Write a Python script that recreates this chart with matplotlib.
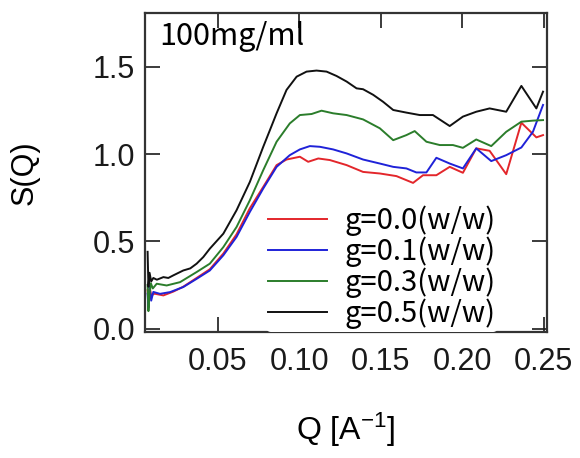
import matplotlib
matplotlib.use("Agg")
import matplotlib.pyplot as plt

# --------------------------
# data
# --------------------------
q_black = [0.0068, 0.0073, 0.0080, 0.0090, 0.0103, 0.0125, 0.0165, 0.0195, 0.0226, 0.0287, 0.0330,
           0.0369, 0.0410, 0.0450, 0.0533, 0.0614, 0.0696, 0.0778, 0.0820, 0.0860, 0.0921, 0.0983,
           0.1044, 0.1105, 0.1167, 0.1228, 0.1290, 0.1351, 0.1391, 0.1453, 0.1514,
           0.1576, 0.1657, 0.1739, 0.1820, 0.1923, 0.2004, 0.2086, 0.2168, 0.2270,
           0.2363, 0.2455, 0.2496]
s_black = [0.44, 0.24, 0.32, 0.27, 0.29, 0.28, 0.295, 0.29, 0.305, 0.333, 0.345,
           0.372, 0.410, 0.458, 0.544, 0.678, 0.841, 1.042, 1.140, 1.234, 1.368, 1.444,
           1.473, 1.479, 1.473, 1.448, 1.416, 1.377, 1.372, 1.340, 1.300,
           1.253, 1.238, 1.224, 1.224, 1.161, 1.215, 1.243, 1.262, 1.243,
           1.391, 1.262, 1.358]

q_green = [0.0068, 0.0073, 0.0080, 0.0088, 0.0100, 0.0124, 0.0185, 0.0267, 0.0369, 0.0450,
           0.0533, 0.0614, 0.0696, 0.0778, 0.0860, 0.0941, 0.1003, 0.1075, 0.1136,
           0.1207, 0.1290, 0.1391, 0.1494, 0.1576, 0.1657, 0.1708, 0.1780, 0.1862,
           0.1943, 0.2004, 0.2086, 0.2178, 0.2270, 0.2363, 0.2434, 0.2496]
s_green = [0.25, 0.10, 0.20, 0.26, 0.23, 0.257, 0.247, 0.266, 0.324, 0.372,
           0.467, 0.582, 0.736, 0.908, 1.071, 1.176, 1.224, 1.230, 1.249,
           1.234, 1.224, 1.199, 1.148, 1.080, 1.109, 1.132, 1.071, 1.052,
           1.052, 1.036, 1.084, 1.046, 1.128, 1.186, 1.192, 1.195]

q_blue = [0.0068, 0.0073, 0.0080, 0.0090, 0.0103, 0.0144, 0.0206, 0.0287, 0.0369, 0.0450,
          0.0533, 0.0614, 0.0696, 0.0778, 0.0860, 0.0941, 0.1003, 0.1064, 0.1126,
          0.1207, 0.1290, 0.1391, 0.1494, 0.1576, 0.1657, 0.1718, 0.1780, 0.1841,
          0.1923, 0.2004, 0.2086, 0.2178, 0.2270, 0.2363, 0.2434, 0.2496]
s_blue = [0.20, 0.12, 0.24, 0.16, 0.21, 0.199, 0.209, 0.238, 0.285, 0.333,
          0.420, 0.525, 0.669, 0.803, 0.927, 0.994, 1.027, 1.046, 1.042,
          1.027, 1.004, 0.969, 0.946, 0.927, 0.918, 0.895, 0.895, 0.979,
          0.946, 0.918, 1.033, 0.960, 0.994, 1.038, 1.128, 1.282]

q_red = [0.0068, 0.0073, 0.0080, 0.0090, 0.0110, 0.0165, 0.0226, 0.0287, 0.0369, 0.0450,
         0.0533, 0.0614, 0.0696, 0.0778, 0.0860, 0.0921, 0.1003, 0.1054, 0.1116,
         0.1187, 0.1290, 0.1391, 0.1494, 0.1596, 0.1698, 0.1759, 0.1841, 0.1923,
         0.2004, 0.2086, 0.2168, 0.2270, 0.2363, 0.2455, 0.2496]
s_red = [0.22, 0.16, 0.24, 0.19, 0.20, 0.190, 0.212, 0.240, 0.290, 0.340,
         0.430, 0.540, 0.690, 0.812, 0.937, 0.969, 0.985, 0.956, 0.975,
         0.966, 0.937, 0.898, 0.889, 0.874, 0.835, 0.879, 0.879, 0.927,
         0.893, 1.033, 1.019, 0.885, 1.180, 1.096, 1.109]

series = [
    ("g=0.0(w/w)", q_red, s_red, "#e3262b"),
    ("g=0.1(w/w)", q_blue, s_blue, "#1f22d8"),
    ("g=0.3(w/w)", q_green, s_green, "#2b7d2b"),
    ("g=0.5(w/w)", q_black, s_black, "#111111"),
]

x_ticks = [0.05, 0.10, 0.15, 0.20, 0.25]
y_ticks = [0.0, 0.5, 1.0, 1.5]

# --------------------------
# plot
# --------------------------
plt.rcParams["font.family"] = ["Liberation Sans", "DejaVu Sans"]
plt.rcParams["mathtext.fontset"] = "custom"
plt.rcParams["mathtext.rm"] = "Liberation Sans"
plt.rcParams["mathtext.default"] = "regular"

fig = plt.figure(figsize=(5.8, 4.58), dpi=100)
ax = fig.add_axes([0.25, 0.275, 0.693, 0.697])

for label, q, s, c in series:
    ax.plot(q, s, color=c, lw=1.4, label=label)

ax.set_xlim(0.0052, 0.252)
ax.set_ylim(-0.02, 1.81)
ax.set_xticks(x_ticks)
ax.set_xticklabels([f"{v:.2f}" for v in x_ticks])
ax.set_yticks(y_ticks)
ax.set_yticklabels([f"{v:.1f}" for v in y_ticks])
ax.tick_params(direction="in", length=11, width=1.2, labelsize=22,
               top=True, right=True, pad=7, colors="#1a1a1a")
ax.tick_params(axis="x", pad=11)
for sp in ax.spines.values():
    sp.set_linewidth(1.6)
    sp.set_color("#333333")

ax.set_xlabel("Q [A$^{-1}$]", fontsize=23, labelpad=24)
ax.set_ylabel("S(Q)", fontsize=22, labelpad=38)

ax.text(0.035, 0.975, "100mg/ml", transform=ax.transAxes, fontsize=22,
        family=["Noto Sans CJK JP", "DejaVu Sans"], va="top", ha="left")

leg = ax.legend(loc="lower left", bbox_to_anchor=(0.3, 0.0), frameon=True,
                facecolor="white", edgecolor="none", framealpha=1.0,
                prop={"family": ["Noto Sans CJK JP", "DejaVu Sans"], "size": 21},
                handlelength=2.0, handletextpad=0.6, labelspacing=0.02,
                borderpad=0.1, borderaxespad=0.0)

fig.savefig("out.png", dpi=100)
